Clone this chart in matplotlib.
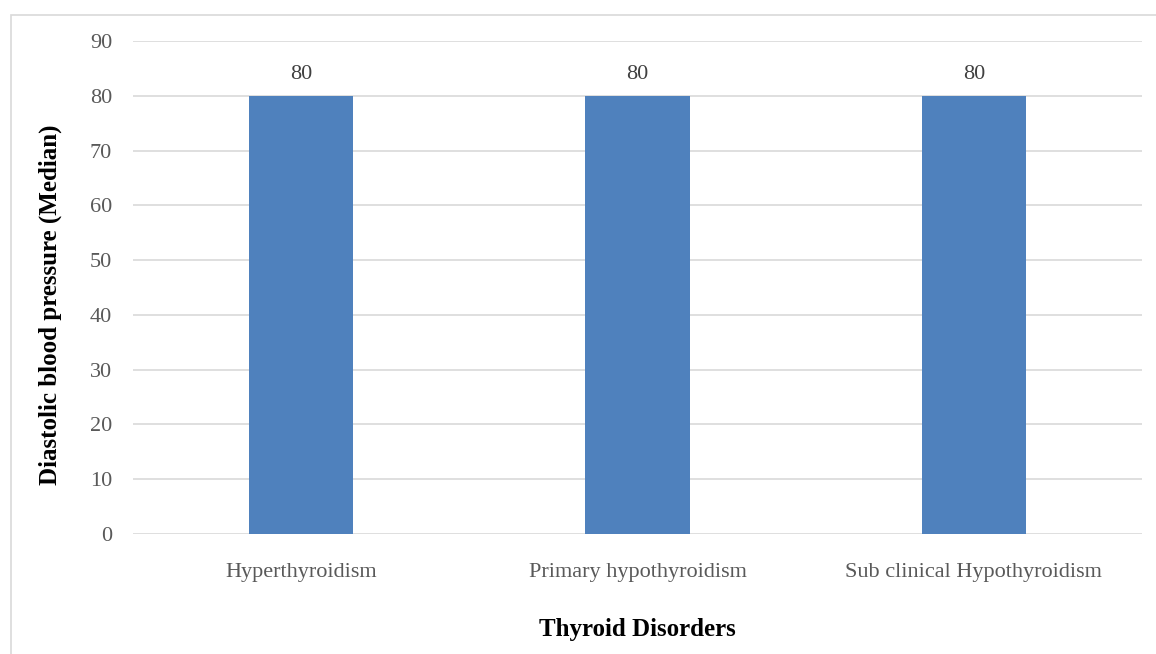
import matplotlib.pyplot as plt
from matplotlib.patches import Rectangle

plt.rcParams['font.family'] = ['Liberation Serif', 'DejaVu Serif']

disorders = ['Hyperthyroidism', 'Primary hypothyroidism', 'Sub clinical Hypothyroidism']
dbp_median = [80, 80, 80]
y_ticks = [0, 10, 20, 30, 40, 50, 60, 70, 80, 90]

W, H = 1156, 654
fig = plt.figure(figsize=(W / 100, H / 100), dpi=100)
ax = fig.add_axes([133 / W, 1 - 534 / H, (1142 - 133) / W, (534 - 41) / H])

# outer chart frame (runs off the right and bottom edge)
fig.patches.append(Rectangle((11 / W, -0.2), 1.2, 1 - 15 / H + 0.2,
                             transform=fig.transFigure, fill=False,
                             edgecolor='#d9d9d9', linewidth=1.2))

x = range(len(disorders))
bars = ax.bar(x, dbp_median, width=0.31, color='#4f81bd', zorder=3)
for b, v in zip(bars, dbp_median):
    ax.text(b.get_x() + b.get_width() / 2, v + 2.2, str(v), ha='center', va='bottom',
            fontsize=16, color='#404040')

ax.set_xlim(-0.5, 2.5)
ax.set_ylim(0, 90)
ax.set_yticks(y_ticks)
ax.set_xticks(list(x))
ax.set_xticklabels(disorders)
ax.tick_params(axis='both', length=0, labelsize=16, labelcolor='#595959')
ax.tick_params(axis='y', pad=15)
ax.tick_params(axis='x', pad=21)
ax.grid(axis='y', color='#d9d9d9', linewidth=1.2, zorder=0)
for s in ax.spines.values():
    s.set_visible(False)

ax.set_ylabel('Diastolic blood pressure (Median)', fontsize=18, fontweight='bold')
ax.yaxis.set_label_coords(-0.070, 0.465)
ax.set_xlabel('Thyroid Disorders', fontsize=18, fontweight='bold', labelpad=26)

fig.savefig('out.png', dpi=100)
